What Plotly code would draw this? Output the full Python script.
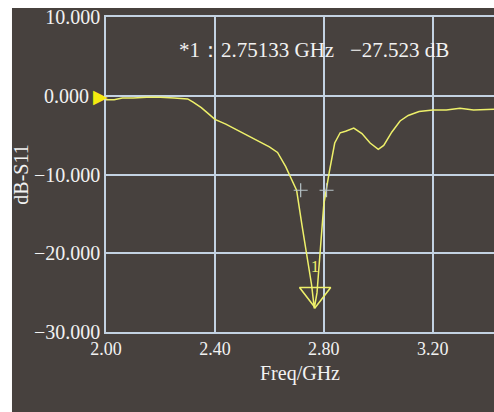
import plotly.graph_objects as go

freq = [2.00, 2.03, 2.06, 2.10, 2.15, 2.20, 2.25, 2.30, 2.32, 2.35, 2.38, 2.40, 2.44, 2.48,
        2.52, 2.56, 2.60, 2.63, 2.66, 2.68, 2.70, 2.72, 2.74, 2.755, 2.765, 2.775, 2.785,
        2.80, 2.82, 2.84, 2.86, 2.88, 2.91, 2.94, 2.97, 3.00, 3.02, 3.05, 3.08, 3.11,
        3.15, 3.20, 3.25, 3.30, 3.35, 3.40, 3.425]
s11 = [-0.5, -0.5, -0.3, -0.3, -0.2, -0.2, -0.3, -0.4, -0.8, -1.5, -2.4, -3.0, -3.6, -4.3,
       -5.0, -5.8, -6.5, -7.2, -9.0, -10.5, -12.0, -16.5, -20.5, -24.0, -27.0, -25.0, -20.5,
       -13.8, -9.7, -6.0, -4.7, -4.5, -4.1, -4.8, -6.0, -6.8, -6.3, -4.6, -3.2, -2.5,
       -2.0, -1.8, -1.8, -1.6, -1.8, -1.7, -1.7]

marker_freq = [2.768]
marker_db = [-25.2]
bw_freq = [2.715, 2.81]
bw_db = [-12.0, -12.0]
ref_freq = 2.0
ref_db = 0.0

xticks = [2.00, 2.40, 2.80, 3.20]
yticks = [10, 0, -10, -20, -30]
yticktext = ["10.000", "", "−10.000", "−20.000", "−30.000"]
ref_label = "0.000"

BG = "#47413e"
GRID = "#c3d2e2"
YEL = "#eef06a"
TXT = "#f2f2f2"
FONT = "Liberation Serif"

fig = go.Figure()
fig.add_trace(go.Scatter(x=freq, y=s11, mode="lines",
                         line=dict(color=YEL, width=1.5), showlegend=False))
fig.add_trace(go.Scatter(x=bw_freq, y=bw_db, mode="markers",
                         marker=dict(symbol="cross-thin-open", size=10, color="#b8c4c8",
                                     line=dict(color="#b8c4c8", width=1.2)),
                         showlegend=False))
fig.add_trace(go.Scatter(x=marker_freq, y=marker_db, mode="markers+text",
                         marker=dict(symbol="triangle-down-open", size=27, color=YEL,
                                     line=dict(color=YEL, width=1.6)),
                         text=["1"], textposition="top center",
                         textfont=dict(color=YEL, size=16, family=FONT),
                         showlegend=False))

# reference-level marker and its tick label
fig.add_annotation(x=ref_freq, y=ref_db, xref="x", yref="y", xanchor="right", yanchor="middle",
                   text="▶", showarrow=False, xshift=3, borderpad=0,
                   font=dict(color="#f5ea10", size=19, family="DejaVu Sans"))
fig.add_annotation(x=ref_freq, y=ref_db, xref="x", yref="y", xanchor="right", yanchor="middle",
                   text=ref_label, showarrow=False, xshift=-16, borderpad=0,
                   font=dict(color=TXT, size=20, family=FONT))

fig.add_annotation(x=2.26, y=5.8, xref="x", yref="y", xanchor="left", yanchor="middle",
                   text="*1：2.75133 GHz   −27.523 dB", showarrow=False,
                   font=dict(color=TXT, size=21, family=FONT))

fig.add_shape(type="rect", xref="paper", yref="paper", x0=-0.2423, x1=1.01,
              y0=-0.26, y1=1.0286, fillcolor=BG, line=dict(width=0), layer="below")

fig.update_xaxes(range=[2.0, 3.425], tickvals=xticks, tickformat=".2f",
                 showgrid=True, gridcolor=GRID, gridwidth=1.5,
                 showline=True, linecolor=GRID, linewidth=1.5, mirror=True,
                 zeroline=False, ticks="",
                 tickfont=dict(color=TXT, size=18, family=FONT),
                 title=dict(text="Freq/GHz", font=dict(color=TXT, size=20, family=FONT),
                            standoff=8))
fig.update_yaxes(range=[-30, 10], tickvals=yticks, ticktext=yticktext,
                 showgrid=True, gridcolor=GRID, gridwidth=1.5,
                 showline=True, linecolor=GRID, linewidth=1.5,
                 zeroline=False, ticks="",
                 tickfont=dict(color=TXT, size=20, family=FONT),
                 title=dict(text="dB-S11", font=dict(color=TXT, size=20, family=FONT),
                            standoff=0))

fig.update_layout(width=494, height=412,
                  margin=dict(l=106, r=0, t=17, b=80),
                  paper_bgcolor="white", plot_bgcolor=BG)

fig.write_html("out.html")
